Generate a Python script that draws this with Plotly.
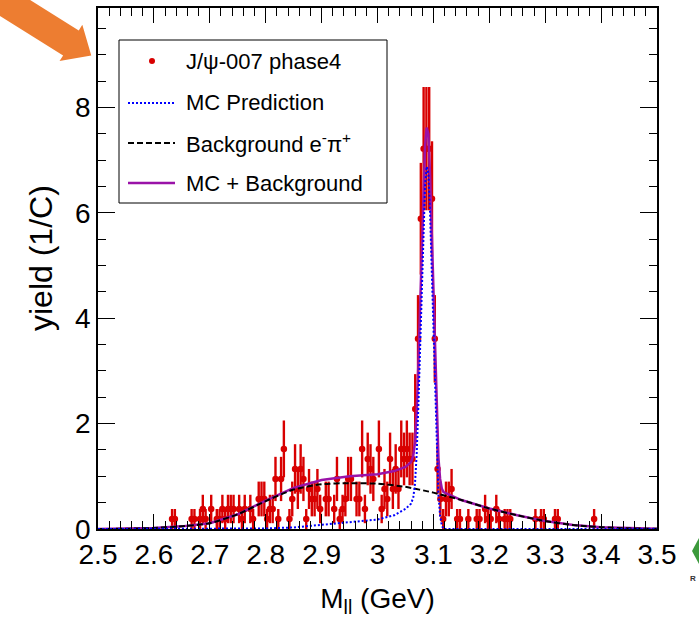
import math
import plotly.graph_objects as go

# ---------------- data ----------------
bin_centers = [2.6325, 2.6375, 2.6675, 2.6725, 2.6825, 2.6875, 2.6925, 2.7025, 2.7125, 2.7175,
               2.7225, 2.7275, 2.7325, 2.7375, 2.7425, 2.7525, 2.7575, 2.7625, 2.7725, 2.7775,
               2.7875, 2.7925, 2.7975, 2.8025, 2.8075, 2.8125, 2.8175, 2.8225, 2.8275, 2.8325,
               2.8425, 2.8475, 2.8525, 2.8575, 2.8625, 2.8675, 2.8725, 2.8775, 2.8825, 2.8875,
               2.8925, 2.8975, 2.9075, 2.9125, 2.9225, 2.9275, 2.9325, 2.9375, 2.9425, 2.9475,
               2.9525, 2.9625, 2.9675, 2.9725, 2.9775, 2.9825, 2.9875, 2.9925, 3.0025, 3.0075,
               3.0125, 3.0175, 3.0225, 3.0275, 3.0325, 3.0375, 3.0425, 3.0475, 3.0525, 3.0575,
               3.0625, 3.0675, 3.0725, 3.0775, 3.0825, 3.0875, 3.0925, 3.0975, 3.1025, 3.1075,
               3.1125, 3.1175, 3.1225, 3.1275, 3.1325, 3.1425, 3.1475, 3.1625, 3.1775, 3.1825,
               3.1925, 3.1975, 3.2025, 3.2125, 3.2175, 3.2275, 3.2325, 3.2375, 3.2825, 3.2925,
               3.2975, 3.3175, 3.3225, 3.3875]
yield_values = [0.19, 0.19, 0.19, 0.19, 0.19, 0.38, 0.19, 0.38, 0.19, 0.19,
                0.38, 0.19, 0.38, 0.38, 0.38, 0.38, 0.19, 0.38, 0.38, 0.19,
                0.57, 0.57, 0.57, 0.19, 0.38, 0.38, 0.95, 0.19, 0.95, 1.52,
                0.19, 0.57, 1.14, 0.76, 1.14, 0.95, 0.19, 0.76, 0.57, 0.57,
                0.76, 0.38, 0.57, 0.57, 0.38, 0.95, 0.19, 0.38, 0.57, 0.95,
                0.95, 0.57, 0.57, 1.52, 0.38, 1.33, 1.14, 0.95, 1.52, 0.38,
                0.76, 0.57, 1.33, 0.76, 1.14, 0.76, 1.52, 1.33, 1.52, 1.33,
                1.33, 2.28, 3.61, 5.89, 7.22, 7.22, 7.22, 6.27, 3.61, 1.14,
                0.57, 0.19, 0.57, 0.57, 0.76, 0.19, 0.19, 0.19, 0.19, 0.19,
                0.38, 0.19, 0.19, 0.38, 0.19, 0.19, 0.19, 0.19, 0.19, 0.19,
                0.19, 0.19, 0.19, 0.19]
yield_errors = [0.19, 0.19, 0.19, 0.19, 0.19, 0.27, 0.19, 0.27, 0.19, 0.19,
                0.27, 0.19, 0.27, 0.27, 0.27, 0.27, 0.19, 0.27, 0.27, 0.19,
                0.33, 0.33, 0.33, 0.19, 0.27, 0.27, 0.42, 0.19, 0.42, 0.54,
                0.19, 0.33, 0.47, 0.38, 0.47, 0.42, 0.19, 0.38, 0.33, 0.33,
                0.38, 0.27, 0.33, 0.33, 0.27, 0.42, 0.19, 0.27, 0.33, 0.42,
                0.42, 0.33, 0.33, 0.54, 0.27, 0.50, 0.47, 0.42, 0.54, 0.27,
                0.38, 0.33, 0.50, 0.38, 0.47, 0.38, 0.54, 0.50, 0.54, 0.50,
                0.50, 0.66, 0.83, 1.06, 1.17, 1.17, 1.17, 1.09, 0.83, 0.47,
                0.33, 0.19, 0.33, 0.33, 0.38, 0.19, 0.19, 0.19, 0.19, 0.19,
                0.27, 0.19, 0.19, 0.27, 0.19, 0.19, 0.19, 0.19, 0.19, 0.19,
                0.19, 0.19, 0.19, 0.19]
half_bin_width = 0.0025

mc_x = [2.50, 2.70, 2.80, 2.85, 2.90, 2.95, 3.00, 3.03, 3.05, 3.06, 3.064, 3.067, 3.07,
        3.073, 3.076, 3.079, 3.082, 3.085, 3.088, 3.091, 3.094, 3.097, 3.100, 3.103,
        3.106, 3.109, 3.112, 3.115, 3.118, 3.125, 3.50]
mc_y = [0.0, 0.0, 0.01, 0.03, 0.08, 0.13, 0.18, 0.26, 0.38, 0.48, 0.60, 0.85, 1.40,
        2.30, 3.40, 4.60, 5.70, 6.50, 6.88, 6.75, 6.00, 4.90, 3.60, 2.50,
        1.40, 0.65, 0.25, 0.07, 0.0, 0.0, 0.0]

bkg_x = [2.50, 2.55, 2.60, 2.65, 2.70, 2.75, 2.80, 2.85, 2.90, 2.95, 3.00, 3.05, 3.10,
         3.15, 3.20, 3.25, 3.30, 3.35, 3.40, 3.45, 3.50]
bkg_y = [0.0, 0.005, 0.02, 0.05, 0.11, 0.28, 0.53, 0.75, 0.85, 0.87, 0.86, 0.80, 0.69,
         0.55, 0.39, 0.26, 0.15, 0.075, 0.035, 0.012, 0.003]

sum_x = [2.50, 2.55, 2.60, 2.65, 2.70, 2.75, 2.80, 2.85, 2.90, 2.95, 3.00, 3.03, 3.05,
         3.06, 3.064, 3.067, 3.07, 3.073, 3.076, 3.079, 3.082, 3.085, 3.088, 3.091,
         3.094, 3.097, 3.100, 3.103, 3.106, 3.109, 3.112, 3.115, 3.118, 3.125, 3.15,
         3.20, 3.25, 3.30, 3.35, 3.40, 3.45, 3.50]
sum_y = [0.0, 0.005, 0.02, 0.05, 0.11, 0.28, 0.54, 0.78, 0.93, 1.00, 1.04, 1.10, 1.18,
         1.27, 1.39, 1.64, 2.19, 3.09, 4.19, 5.38, 6.47, 7.26, 7.62, 7.50,
         6.72, 5.60, 4.30, 3.20, 2.10, 1.35, 0.95, 0.77, 0.70, 0.67, 0.55,
         0.39, 0.26, 0.15, 0.075, 0.035, 0.012, 0.003]

legend_labels = ["J/\u03c8-007 phase4", "MC Prediction",
                 "Background e<sup>-</sup>\u03c0<sup>+</sup>", "MC + Background"]
x_title = "M<sub>ll</sub> (GeV)"
y_title = "yield (1/C)"

# ---------------- figure ----------------
W, H = 699, 618
ML, MR, MT, MB = 98, 42, 8, 89
PW, PH = W - ML - MR, H - MT - MB
FONT = "Liberation Sans, Arial, Helvetica, sans-serif"
RED = "#D80000"
BLUE = "#0000FF"
PURPLE = "#9A12A8"


def px_x(px):
    return (px - ML) / PW


def px_y(py):
    return (H - MB - py) / PH


fig = go.Figure()

fig.add_trace(go.Scatter(
    x=bin_centers, y=yield_values, mode="markers", name=legend_labels[0],
    marker=dict(color=RED, size=6.5),
    error_y=dict(type="data", array=yield_errors, color=RED, thickness=2.4, width=0),
    error_x=dict(type="constant", value=half_bin_width, color=RED, thickness=2.4, width=0),
    showlegend=False))
fig.add_trace(go.Scatter(x=sum_x, y=sum_y, mode="lines", name=legend_labels[3],
                         line=dict(color=PURPLE, width=2.5), showlegend=False))
fig.add_trace(go.Scatter(x=bkg_x, y=bkg_y, mode="lines", name=legend_labels[2],
                         line=dict(color="black", width=2, dash="6px,3px", shape="spline",
                                   smoothing=0.6), showlegend=False))
fig.add_trace(go.Scatter(x=mc_x, y=mc_y, mode="lines", name=legend_labels[1],
                         line=dict(color=BLUE, width=2, dash="2px,2px"), showlegend=False))

axis_common = dict(showline=True, linecolor="black", linewidth=1.5, mirror="allticks",
                   ticks="inside", tickcolor="black", tickwidth=1, showgrid=False,
                   zeroline=False, tickfont=dict(family=FONT, size=28, color="black"))

fig.update_xaxes(range=[2.5, 3.5], tick0=2.5, dtick=0.1, ticklen=15,
                 minor=dict(dtick=0.02, ticks="inside", ticklen=8, tickcolor="black", tickwidth=1),
                 title=dict(text=x_title, font=dict(family=FONT, size=28, color="black"),
                            standoff=22),
                 automargin=False, **axis_common)
fig.update_yaxes(range=[0, 9.89], tick0=0, dtick=2, ticklen=17,
                 minor=dict(dtick=0.5, ticks="inside", ticklen=8, tickcolor="black", tickwidth=1),
                 automargin=False, **axis_common)

shapes = []
annotations = []

# y-axis title (placed where the reference shows it, slightly above centre)
annotations.append(dict(text=y_title, xref="paper", yref="paper", x=px_x(41), y=px_y(258),
                        xanchor="center", yanchor="middle", textangle=-90, showarrow=False,
                        font=dict(family=FONT, size=32, color="black")))

# legend box
shapes.append(dict(type="rect", xref="paper", yref="paper",
                   x0=px_x(119), x1=px_x(387), y0=px_y(203), y1=px_y(40),
                   line=dict(color="black", width=1), fillcolor="white", layer="above"))
rows = [61, 103, 143, 183]
shapes.append(dict(type="circle", xref="paper", yref="paper",
                   x0=px_x(149), x1=px_x(155), y0=px_y(64), y1=px_y(58),
                   line=dict(color=RED, width=0), fillcolor=RED, layer="above"))
shapes.append(dict(type="line", xref="paper", yref="paper", x0=px_x(128), x1=px_x(175),
                   y0=px_y(rows[1]), y1=px_y(rows[1]),
                   line=dict(color=BLUE, width=2, dash="2px,2px"), layer="above"))
shapes.append(dict(type="line", xref="paper", yref="paper", x0=px_x(128), x1=px_x(175),
                   y0=px_y(rows[2]), y1=px_y(rows[2]),
                   line=dict(color="black", width=2, dash="6px,3px"), layer="above"))
shapes.append(dict(type="line", xref="paper", yref="paper", x0=px_x(128), x1=px_x(175),
                   y0=px_y(rows[3]), y1=px_y(rows[3]),
                   line=dict(color=PURPLE, width=2.5), layer="above"))
for label, r in zip(legend_labels, rows):
    annotations.append(dict(text=label, xref="paper", yref="paper", x=px_x(184), y=px_y(r),
                            xanchor="left", yanchor="middle", showarrow=False,
                            font=dict(family=FONT, size=22, color="black")))

# orange arrow (outside plot, top-left)
ang = math.radians(32)
d = (math.cos(ang), math.sin(ang))
n = (-d[1], d[0])
c0 = (17.5, 9.5)
tip = (c0[0] + 87 * d[0], c0[1] + 87 * d[1])
B = (c0[0] + 63 * d[0], c0[1] + 63 * d[1])
hw, sw = 21.5, 14.75
pts = [
    (B[0] - sw * n[0] - 150 * d[0], B[1] - sw * n[1] - 150 * d[1]),
    (B[0] - sw * n[0], B[1] - sw * n[1]),
    (B[0] - hw * n[0], B[1] - hw * n[1]),
    tip,
    (B[0] + hw * n[0], B[1] + hw * n[1]),
    (B[0] + sw * n[0], B[1] + sw * n[1]),
    (B[0] + sw * n[0] - 150 * d[0], B[1] + sw * n[1] - 150 * d[1]),
]
path = "M " + " L ".join(f"{px_x(px):.5f},{px_y(py):.5f}" for px, py in pts) + " Z"
shapes.append(dict(type="path", xref="paper", yref="paper", path=path,
                   fillcolor="#ED7D31", line=dict(width=0), layer="above"))

# cut-off logo fragment at right edge
logo = [(699, 538), (692, 551), (699, 564)]
shapes.append(dict(type="path", xref="paper", yref="paper",
                   path="M " + " L ".join(f"{px_x(a):.5f},{px_y(b):.5f}" for a, b in logo) + " Z",
                   fillcolor="#3C9A3C", line=dict(width=0), layer="above"))
annotations.append(dict(text="<b>R</b>", xref="paper", yref="paper", x=px_x(693), y=px_y(578),
                        xanchor="center", yanchor="middle", showarrow=False,
                        font=dict(family=FONT, size=8, color="#333333")))

fig.update_layout(width=W, height=H, margin=dict(l=ML, r=MR, t=MT, b=MB),
                  paper_bgcolor="white", plot_bgcolor="white",
                  shapes=shapes, annotations=annotations, showlegend=False)

fig.write_html("out.html", config={"displayModeBar": False},
               post_script="document.body.style.margin='0px';document.body.style.overflow='hidden';")
